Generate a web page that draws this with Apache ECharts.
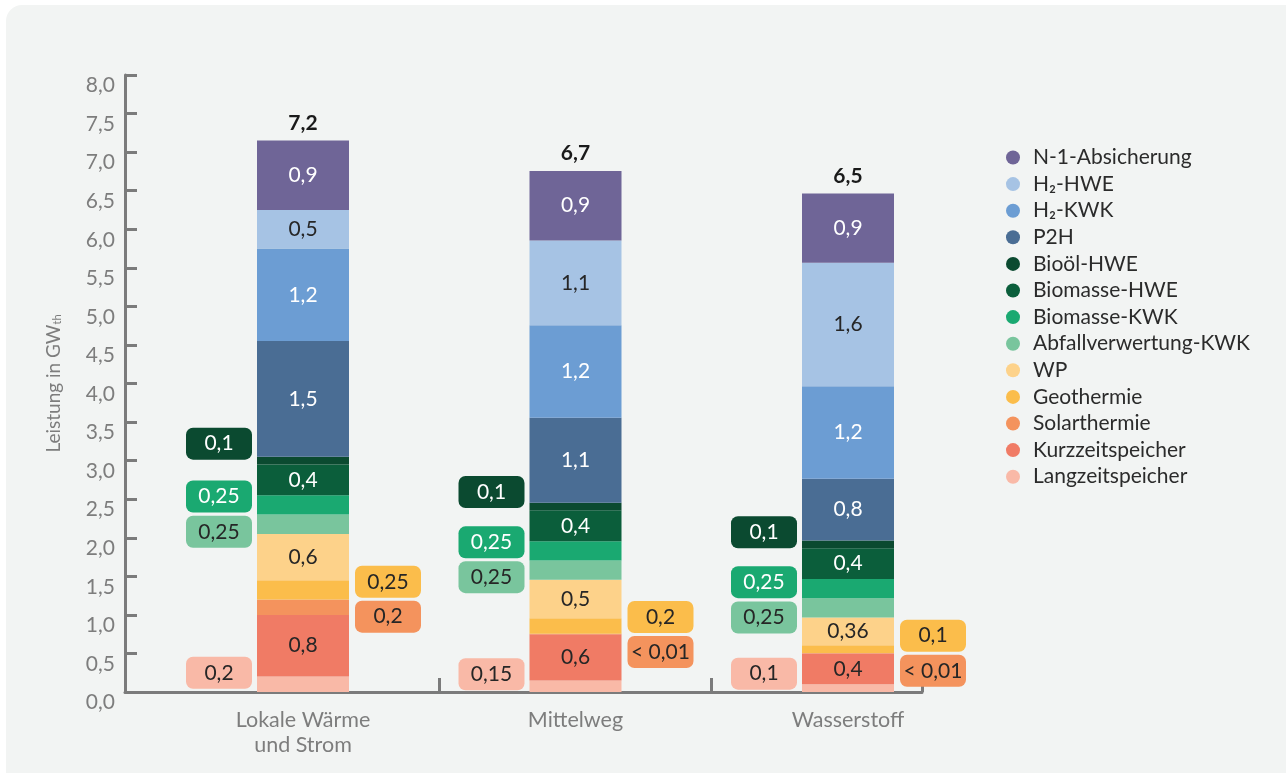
<!DOCTYPE html>
<html>
<head>
<meta charset="utf-8">
<script src="https://cdn.jsdelivr.net/npm/echarts@6/dist/echarts.min.js"></script>
<style>
  html, body { margin: 0; padding: 0; background: #fff; overflow: hidden; }
  #card { position: absolute; left: 6px; top: 5px; width: 1310px; height: 800px; border-radius: 16px; background: #f2f4f3; }
  #chart { position: absolute; left: 0; top: 0; width: 1286px; height: 773px; }
</style>
</head>
<body>
<div id="card"></div>
<div id="chart"></div>
<script>
// Szenarien
const categories = ['Lokale Wärme\nund Strom', 'Mittelweg', 'Wasserstoff'];
// Summen über den Balken
const totals = [7.2, 6.7, 6.5];

// Werte je Erzeuger (GW_th), von unten nach oben gestapelt
const langzeitspeicher = [0.2, 0.15, 0.1];
const kurzzeitspeicher = [0.8, 0.6, 0.4];
const solarthermie = [0.2, 0.005, 0.005];   // "< 0,01"
const geothermie = [0.25, 0.2, 0.1];
const wp = [0.6, 0.5, 0.36];
const abfallKwk = [0.25, 0.25, 0.25];
const biomasseKwk = [0.25, 0.25, 0.25];
const biomasseHwe = [0.4, 0.4, 0.4];
const biooelHwe = [0.1, 0.1, 0.1];
const p2h = [1.5, 1.1, 0.8];
const h2Kwk = [1.2, 1.2, 1.2];
const h2Hwe = [0.5, 1.1, 1.6];
const n1 = [0.9, 0.9, 0.9];

// Y-Achse
const yMin = 0, yMax = 8, yStep = 0.5;

const DARK = '#262626';
const WHITE = '#ffffff';

// Reihenfolge: unten -> oben
const stackDefs = [
  { name: 'Langzeitspeicher', data: langzeitspeicher, color: '#f9b9a7', text: DARK, side: 'left', dy: [-11.5, -12, -14.5] },
  { name: 'Kurzzeitspeicher', data: kurzzeitspeicher, color: '#f07b65', text: DARK },
  { name: 'Solarthermie', data: solarthermie, color: '#f4935d', text: DARK, side: 'right', dy: [9.5, 18, 17.5] },
  { name: 'Geothermie', data: geothermie, color: '#fbbd4b', text: DARK, side: 'right', dy: [-8, -9, -13.5] },
  { name: 'WP', data: wp, color: '#fdd28a', text: DARK },
  { name: 'Abfallverwertung-KWK', data: abfallKwk, color: '#79c59d', text: DARK, side: 'left', dy: [7.5, 7, 9.5] },
  { name: 'Biomasse-KWK', data: biomasseKwk, color: '#1aa971', text: WHITE, side: 'left', dy: [-8.5, -8.5, -6.5] },
  { name: 'Biomasse-HWE', data: biomasseHwe, color: '#0b5e3b', text: WHITE },
  { name: 'Bioöl-HWE', data: biooelHwe, color: '#0b4a30', text: WHITE, side: 'left', dy: [-17, -14.5, -12] },
  { name: 'P2H', data: p2h, color: '#4a6d94', text: WHITE },
  { name: 'H₂-KWK', data: h2Kwk, color: '#6c9dd3', text: WHITE },
  { name: 'H₂-HWE', data: h2Hwe, color: '#a6c3e4', text: DARK },
  { name: 'N-1-Absicherung', data: n1, color: '#6f6597', text: WHITE }
];

const FONT = 'Lato';
const BAR_W = 92;
const LBL_SIZE = 21;

// Zahl im deutschen Format
const fmt = (v) => v < 0.01 ? '< 0,01' : String(v).replace('.', ',');

const buildLabel = (def, i) => {
  const v = def.data[i];
  if (def.side) {
    return {
      show: true,
      position: def.side,
      distance: def.side === 'left' ? 5 : 6,
      offset: [0, def.dy[i]],
      formatter: '{b|' + fmt(v) + '}',
      rich: {
        b: {
          width: 66, height: 32, lineHeight: 32, align: 'center',
          backgroundColor: def.color, borderRadius: 7,
          color: def.text, fontSize: LBL_SIZE, fontFamily: FONT
        }
      }
    };
  }
  return {
    show: true,
    position: 'inside',
    formatter: fmt(v),
    color: def.text,
    fontSize: LBL_SIZE,
    fontFamily: FONT
  };
};

const series = stackDefs.map(def => ({
  name: def.name,
  type: 'bar',
  stack: 'total',
  xAxisIndex: 1,
  yAxisIndex: 1,
  barWidth: BAR_W,
  itemStyle: { color: def.color },
  data: def.data.map((v, i) => ({ value: v, label: buildLabel(def, i) }))
}));

// Summen als Label einer leeren Reihe oben auf dem Stapel
series.push({
  name: 'Summe',
  type: 'bar',
  stack: 'total',
  xAxisIndex: 1,
  yAxisIndex: 1,
  barWidth: BAR_W,
  silent: true,
  itemStyle: { color: 'transparent' },
  data: totals.map(() => 0),
  label: {
    show: true,
    position: 'top',
    distance: 7,
    formatter: (p) => fmt(totals[p.dataIndex]),
    fontSize: LBL_SIZE,
    fontWeight: 'bold',
    color: '#1a1a1a',
    fontFamily: FONT
  }
});

const AXIS_COLOR = '#7b7b7b';
const LABEL_COLOR = '#7d7d7d';

const chart = echarts.init(document.getElementById('chart'));
chart.setOption({
  animation: false,
  backgroundColor: 'transparent',
  textStyle: { fontFamily: FONT },
  grid: [
    // Achsenrahmen
    { left: 125, right: 364, top: 75, bottom: 81 },
    // Balkenbereich
    { left: 166.75, right: 301.75, top: 75, bottom: 81 }
  ],
  legend: {
    orient: 'vertical',
    left: 1001,
    top: 142,
    icon: 'circle',
    itemWidth: 14,
    itemHeight: 14,
    itemGap: 5.6,
    selectedMode: false,
    data: stackDefs.map(d => d.name).reverse(),
    textStyle: { fontSize: 21, lineHeight: 20, color: '#2b2b2b', fontFamily: FONT, padding: [0, 0, 0, 8] }
  },
  xAxis: [
    {
      gridIndex: 0,
      type: 'value',
      min: -0.653,
      max: 2.272,
      splitLine: { show: false },
      axisLabel: { show: false },
      axisLine: { show: true, lineStyle: { color: AXIS_COLOR, width: 3 } },
      axisTick: { show: true, inside: true, length: 14, customValues: [0.5, 1.5, 2.272], lineStyle: { color: AXIS_COLOR, width: 3 } }
    },
    {
      gridIndex: 1,
      type: 'category',
      data: categories,
      axisLine: { show: false },
      axisTick: { show: false },
      axisLabel: {
        color: LABEL_COLOR,
        fontSize: 21.5,
        lineHeight: 25,
        margin: 16,
        fontFamily: FONT
      }
    }
  ],
  yAxis: [
    {
      gridIndex: 0,
      type: 'value',
      min: yMin,
      max: yMax,
      interval: yStep,
      name: 'Leistung in GW{s|th}',
      nameLocation: 'middle',
      nameGap: 62,
      nameTextStyle: {
        color: LABEL_COLOR, fontSize: 19, fontFamily: FONT,
        rich: { s: { fontSize: 11, verticalAlign: 'bottom', color: LABEL_COLOR, padding: [6, 0, 0, 0] } }
      },
      splitLine: { show: false },
      axisLine: { show: true, onZero: false, lineStyle: { color: AXIS_COLOR, width: 3 } },
      axisTick: { show: true, inside: true, length: 12, lineStyle: { color: AXIS_COLOR, width: 3 } },
      axisLabel: {
        formatter: (v) => v.toFixed(1).replace('.', ','),
        color: LABEL_COLOR,
        fontSize: 21,
        margin: 10,
        verticalAlign: 'top',
        fontFamily: FONT
      }
    },
    {
      gridIndex: 1,
      type: 'value',
      min: yMin,
      max: yMax,
      show: false
    }
  ],
  series: series
});
</script>
</body>
</html>
